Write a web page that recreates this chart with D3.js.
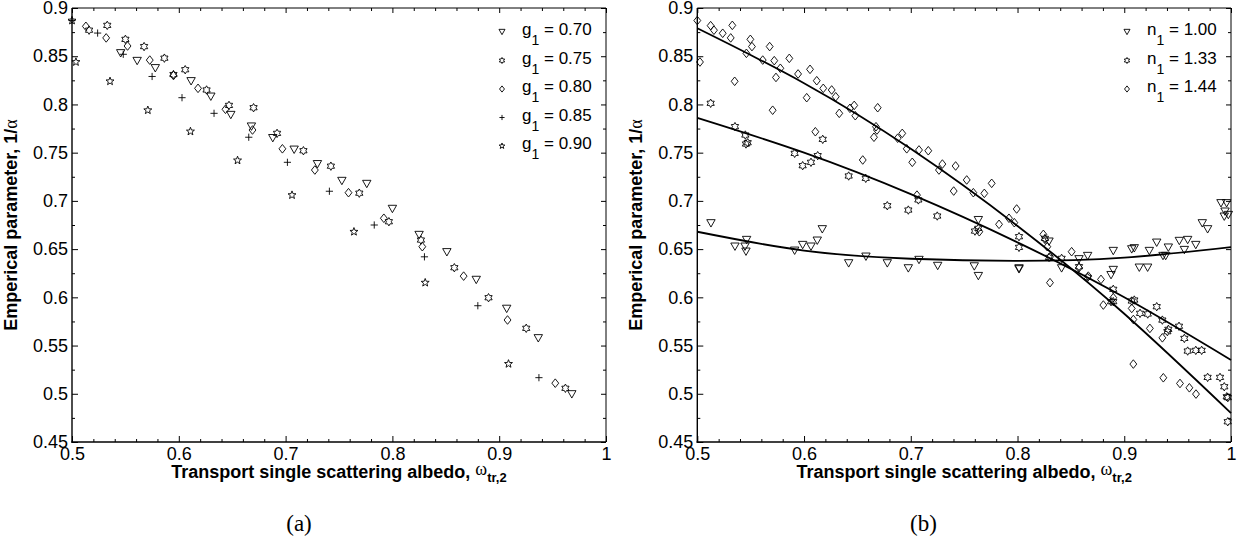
<!DOCTYPE html>
<html><head><meta charset="utf-8">
<script src="https://cdn.jsdelivr.net/npm/d3@7"></script>
<style>body{margin:0;background:#fff}svg{display:block}</style>
</head><body>
<svg id="chart" width="1245" height="544"></svg>
<script>
// ---------- tick labels ----------
const xTicks = [0.5, 0.6, 0.7, 0.8, 0.9, 1.0];
const xTickLabels = ["0.5", "0.6", "0.7", "0.8", "0.9", "1"];
const yTicks = [0.45, 0.5, 0.55, 0.6, 0.65, 0.7, 0.75, 0.8, 0.85, 0.9];
const yTickLabels = ["0.45", "0.5", "0.55", "0.6", "0.65", "0.7", "0.75", "0.8", "0.85", "0.9"];

// ---------- panel (a): g1 series ----------
const legendA = ["0.70", "0.75", "0.80", "0.85", "0.90"];
const g070 = [[0.5456,0.853],[0.561,0.845],[0.578,0.8375],[0.6115,0.824],[0.630,0.808],[0.6487,0.789],[0.668,0.777],[0.688,0.765],[0.708,0.753],[0.7298,0.738],[0.7527,0.7206],[0.776,0.7175],[0.800,0.6916],[0.825,0.6646],[0.851,0.6467],[0.8785,0.618],[0.907,0.588],[0.9366,0.5575],[0.968,0.4994]];
const g075 = [[0.516,0.877],[0.533,0.882],[0.550,0.8675],[0.5675,0.860],[0.5865,0.848],[0.595,0.831],[0.606,0.836],[0.626,0.815],[0.647,0.799],[0.670,0.7966],[0.692,0.770],[0.7167,0.752],[0.7424,0.736],[0.769,0.708],[0.7967,0.6784],[0.8267,0.6594],[0.858,0.6307],[0.890,0.5996],[0.9253,0.5679],[0.962,0.5057]];
const g080 = [[0.513,0.881],[0.532,0.869],[0.552,0.8606],[0.5728,0.846],[0.595,0.830],[0.618,0.8167],[0.6437,0.795],[0.669,0.7735],[0.697,0.754],[0.7274,0.732],[0.7589,0.7085],[0.792,0.682],[0.828,0.6525],[0.8667,0.622],[0.9078,0.5765],[0.9525,0.511]];
const g085 = [[0.5,0.887],[0.524,0.874],[0.548,0.852],[0.575,0.829],[0.603,0.807],[0.633,0.7908],[0.6655,0.766],[0.7017,0.740],[0.741,0.710],[0.783,0.675],[0.830,0.642],[0.880,0.5913],[0.9372,0.5167]];
const g090 = [[0.5,0.887],[0.5037,0.844],[0.5356,0.824],[0.571,0.794],[0.6109,0.772],[0.655,0.742],[0.706,0.706],[0.764,0.668],[0.8307,0.6152],[0.9087,0.531]];

// ---------- panel (b): n1 series ----------
const legendB = ["1.00", "1.33", "1.44"];
const n100 = [[0.5128,0.6767],[0.5353,0.6525],[0.5447,0.6525],[0.5456,0.6473],[0.5462,0.6594],[0.5912,0.6483],[0.5987,0.6542],[0.6065,0.6525],[0.6124,0.6587],[0.6171,0.6705],[0.6418,0.6352],[0.658,0.6421],[0.678,0.6352],[0.6977,0.630],[0.7077,0.6387],[0.7252,0.6325],[0.7595,0.632],[0.7633,0.622],[0.7633,0.680],[0.8014,0.629],[0.8014,0.630],[0.8295,0.6577],[0.8413,0.630],[0.8576,0.6394],[0.8657,0.6428],[0.8876,0.623],[0.8897,0.6283],[0.8897,0.648],[0.907,0.6497],[0.9094,0.6508],[0.9141,0.6307],[0.9219,0.6307],[0.9235,0.648],[0.9304,0.6566],[0.9363,0.6428],[0.9388,0.6428],[0.9413,0.6515],[0.9516,0.6584],[0.9563,0.649],[0.9594,0.6594],[0.967,0.6542],[0.9731,0.6767],[0.9781,0.6705],[0.9906,0.6975],[0.9937,0.6836],[0.9944,0.6888],[0.9959,0.6975],[0.9975,0.6853]];
const n133 = [[0.5125,0.8012],[0.5353,0.777],[0.545,0.7683],[0.5456,0.759],[0.5472,0.7603],[0.5912,0.7493],[0.5987,0.7365],[0.6065,0.74],[0.6128,0.7469],[0.6175,0.7638],[0.6418,0.7258],[0.6578,0.7234],[0.678,0.695],[0.6977,0.6905],[0.7071,0.701],[0.7248,0.6843],[0.7601,0.6687],[0.7633,0.6715],[0.8014,0.6629],[0.8014,0.6518],[0.8257,0.6611],[0.8295,0.6414],[0.8413,0.6404],[0.8576,0.6318],[0.8657,0.6207],[0.8897,0.6083],[0.8876,0.5955],[0.8897,0.5955],[0.907,0.5962],[0.9094,0.5972],[0.9148,0.5834],[0.922,0.5827],[0.9304,0.5903],[0.9357,0.5764],[0.9404,0.5644],[0.9413,0.5668],[0.9513,0.570],[0.9563,0.5574],[0.9594,0.5443],[0.967,0.545],[0.9725,0.545],[0.9781,0.517],[0.9897,0.517],[0.9937,0.5073],[0.996,0.4969],[0.997,0.496],[0.9969,0.471]];
const n144 = [[0.5,0.887],[0.5025,0.844],[0.5125,0.8817],[0.5156,0.877],[0.5238,0.8738],[0.5328,0.882],[0.5313,0.869],[0.535,0.824],[0.546,0.853],[0.5497,0.8675],[0.5512,0.860],[0.5613,0.846],[0.5678,0.860],[0.5706,0.794],[0.5721,0.8454],[0.5737,0.828],[0.5778,0.8375],[0.5862,0.8478],[0.5944,0.8316],[0.6025,0.807],[0.6056,0.8364],[0.6106,0.7717],[0.6119,0.8246],[0.618,0.8167],[0.6259,0.815],[0.6297,0.808],[0.633,0.7908],[0.643,0.796],[0.647,0.799],[0.648,0.7883],[0.655,0.7424],[0.6655,0.766],[0.6674,0.7769],[0.6683,0.7735],[0.669,0.7966],[0.6877,0.765],[0.692,0.770],[0.6962,0.754],[0.7014,0.740],[0.7058,0.706],[0.7077,0.7528],[0.7164,0.752],[0.7264,0.732],[0.7296,0.7382],[0.742,0.7362],[0.7402,0.7102],[0.7524,0.7217],[0.7586,0.7085],[0.7642,0.668],[0.7689,0.7078],[0.7758,0.7182],[0.7992,0.6916],[0.792,0.682],[0.797,0.6774],[0.7827,0.6757],[0.8242,0.6653],[0.8257,0.6601],[0.8279,0.6525],[0.8304,0.6152],[0.8304,0.642],[0.8507,0.6473],[0.8576,0.6307],[0.8663,0.622],[0.8782,0.6186],[0.8804,0.592],[0.8897,0.5996],[0.907,0.5885],[0.9085,0.577],[0.9085,0.5308],[0.924,0.5678],[0.9357,0.558],[0.9366,0.5166],[0.9522,0.5107],[0.961,0.5062],[0.9672,0.4997]];

// fitted curves of panel (b), read at these abscissas
const fitX   = [0.5, 0.6, 0.7, 0.8, 0.9, 1.0];
const fit100 = [0.668, 0.6485, 0.6400, 0.6378, 0.6412, 0.652];
const fit133 = [0.786, 0.750, 0.707, 0.657, 0.600, 0.535];
const fit144 = [0.879, 0.822, 0.754, 0.674, 0.583, 0.480];

// ---------- marker shapes ----------
function triDown(s){ const h=s*0.88; return `M${-s},${-h}L${s},${-h}L0,${h}Z`; }
function diamond(s){ return `M0,${-s}L${s*0.8},0L0,${s}L${-s*0.8},0Z`; }
function starPath(s, n, ratio){
  let p=""; for(let i=0;i<2*n;i++){ const r=i%2?s*ratio:s; const a=-Math.PI/2+i*Math.PI/n;
    p+=(i?"L":"M")+(r*Math.cos(a)).toFixed(2)+","+(r*Math.sin(a)).toFixed(2);} return p+"Z"; }
function hexagram(s){ return starPath(s,6,0.577); }
function pentagram(s){ return starPath(s,5,0.42); }
function plus(s){ return `M${-s},0H${s}M0,${-s}V${s}`; }

const svg = d3.select("#chart");
const FONT = "'Liberation Sans', Arial, Helvetica, sans-serif";
const yTop = 8, yBot = 442;
const panels = [
  {x0:72, x1:606, caption:"(a)", capX:299, legSym:"g", legend:legendA,
   series:[{d:g070,m:triDown,s:4.2},{d:g075,m:hexagram,s:4.2},{d:g080,m:diamond,s:4.3},{d:g085,m:plus,s:3.6},{d:g090,m:pentagram,s:4.2}], fits:[]},
  {x0:697.3, x1:1231, caption:"(b)", capX:923.5, legSym:"n", legend:legendB,
   series:[{d:n100,m:triDown,s:4.2},{d:n133,m:hexagram,s:4.2},{d:n144,m:diamond,s:4.3}], fits:[fit100,fit133,fit144]}
];

const xMinor = d3.range(0.52, 1.0, 0.02).filter(v => Math.abs(v*10 - Math.round(v*10)) > 1e-6);
const yMinor = d3.range(0.475, 0.9, 0.05);

panels.forEach(P => {
  const x = d3.scaleLinear().domain([0.5, 1]).range([P.x0, P.x1]);
  const y = d3.scaleLinear().domain([0.45, 0.9]).range([yBot, yTop]);
  const g = svg.append("g");

  const style = sel => { sel.select(".domain").remove(); sel.attr("font-family", FONT).attr("font-size", 18);
    sel.selectAll("line").attr("stroke","#000").attr("stroke-width",1); sel.selectAll("text").attr("fill","#000"); };

  // bottom (labelled) + minor
  g.append("g").attr("transform",`translate(0,${yBot})`)
    .call(d3.axisBottom(x).tickValues(xTicks).tickFormat((d,i)=>xTickLabels[i]).tickSizeInner(-6).tickSizeOuter(0).tickPadding(5)).call(style);
  g.append("g").attr("transform",`translate(0,${yBot})`)
    .call(d3.axisBottom(x).tickValues(xMinor).tickFormat("").tickSizeInner(-3).tickSizeOuter(0)).call(style);
  // top
  g.append("g").attr("transform",`translate(0,${yTop})`)
    .call(d3.axisTop(x).tickValues(xTicks).tickFormat("").tickSizeInner(-5).tickSizeOuter(0)).call(style);
  g.append("g").attr("transform",`translate(0,${yTop})`)
    .call(d3.axisTop(x).tickValues(xMinor).tickFormat("").tickSizeInner(-3).tickSizeOuter(0)).call(style);
  // left
  g.append("g").attr("transform",`translate(${P.x0},0)`)
    .call(d3.axisLeft(y).tickValues(yTicks).tickFormat((d,i)=>yTickLabels[i]).tickSizeInner(-6).tickSizeOuter(0).tickPadding(4)).call(style);
  g.append("g").attr("transform",`translate(${P.x0},0)`)
    .call(d3.axisLeft(y).tickValues(yMinor).tickFormat("").tickSizeInner(-3).tickSizeOuter(0)).call(style);
  // right
  g.append("g").attr("transform",`translate(${P.x1},0)`)
    .call(d3.axisRight(y).tickValues(yTicks).tickFormat("").tickSizeInner(-5).tickSizeOuter(0)).call(style);
  g.append("g").attr("transform",`translate(${P.x1},0)`)
    .call(d3.axisRight(y).tickValues(yMinor).tickFormat("").tickSizeInner(-3).tickSizeOuter(0)).call(style);

  // box
  g.append("line").attr("x1",P.x0).attr("x2",P.x1).attr("y1",yTop).attr("y2",yTop).attr("stroke","#000").attr("stroke-width",1);
  g.append("line").attr("x1",P.x1).attr("x2",P.x1).attr("y1",yTop).attr("y2",yBot).attr("stroke","#000").attr("stroke-width",1);
  g.append("line").attr("x1",P.x0).attr("x2",P.x0).attr("y1",yTop).attr("y2",yBot+0.8).attr("stroke","#000").attr("stroke-width",1.4);
  g.append("line").attr("x1",P.x0-0.7).attr("x2",P.x1).attr("y1",yBot).attr("y2",yBot).attr("stroke","#000").attr("stroke-width",1.6);

  // markers
  P.series.forEach(S => {
    g.append("g").selectAll("path").data(S.d).join("path")
      .attr("d", S.m(S.s))
      .attr("transform", d => `translate(${x(d[0])},${y(d[1])})`)
      .attr("fill","none").attr("stroke","#000").attr("stroke-width",0.9);
  });

  // fits
  const line = d3.line().x((d,i)=>x(fitX[i])).y(d=>y(d)).curve(d3.curveNatural);
  P.fits.forEach(F => {
    g.append("path").attr("d", line(F)).attr("fill","none").attr("stroke","#000").attr("stroke-width",1.8);
  });

  // legend
  P.legend.forEach((lab,i) => {
    const base = 35 + i*28.5;
    const S = P.series[i];
    g.append("path").attr("d", S.m(S.s*0.72)).attr("transform",`translate(${P.x1-104},${base-3})`)
      .attr("fill","none").attr("stroke","#000").attr("stroke-width",0.9);
    const t = g.append("text").attr("x", P.x1-84).attr("y", base).attr("font-family",FONT).attr("font-size",17).attr("fill","#000");
    t.append("tspan").text(P.legSym);
    t.append("tspan").attr("font-size",14).attr("dy",10).text("1");
    t.append("tspan").attr("dy",-10).text(" = " + lab);
  });

  // axis labels
  const xl = g.append("text").attr("x",(P.x0+P.x1)/2).attr("y",478).attr("text-anchor","middle")
    .attr("font-family",FONT).attr("font-size",18).attr("font-weight","bold").attr("fill","#000");
  xl.append("tspan").text("Transport single scattering albedo, ");
  xl.append("tspan").attr("font-family","'Liberation Serif', serif").attr("font-weight","normal").attr("dy",-3).text("ω");
  xl.append("tspan").attr("font-size",13).attr("dy",7).text("tr,2");

  const yl = g.append("text").attr("transform",`translate(${P.x0-55},225) rotate(-90)`).attr("text-anchor","middle")
    .attr("font-family",FONT).attr("font-size",18).attr("font-weight","bold").attr("fill","#000");
  yl.append("tspan").text("Emperical parameter, 1/");
  yl.append("tspan").attr("font-family","'Liberation Serif', serif").attr("font-weight","normal").text("α");

  // caption
  g.append("text").attr("x",P.capX).attr("y",531).attr("text-anchor","middle")
    .attr("font-family","'Liberation Serif', 'DejaVu Serif', serif").attr("font-size",23).attr("fill","#000").text(P.caption);
});
</script>
</body></html>
